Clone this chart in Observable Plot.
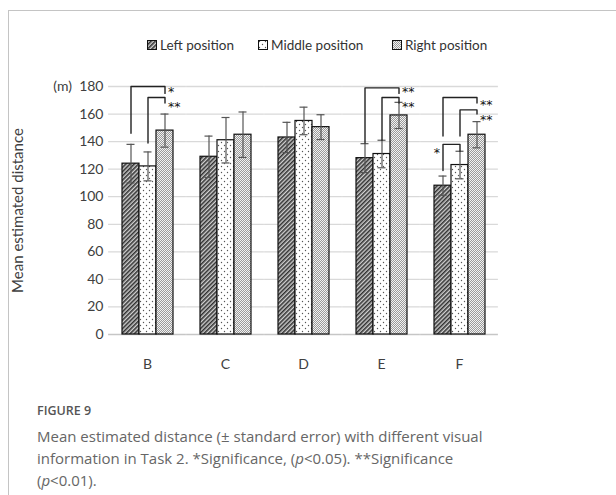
<!DOCTYPE html>
<html>
<head>
<meta charset="utf-8">
<script src="https://cdn.jsdelivr.net/npm/d3@7"></script>
<script src="https://cdn.jsdelivr.net/npm/@observablehq/plot@0.6"></script>
<style>
  html, body { margin: 0; padding: 0; background: #fff; width: 616px; height: 495px; overflow: hidden; }
  #card { position: absolute; left: 8px; top: 10px; width: 700px; height: 600px; border: 1px solid #c4c4c4; box-sizing: border-box; }
  #chart { position: absolute; left: 0; top: 0; }
  .leg { position: absolute; top: 37px; font: 13.5px Lato, sans-serif; color: #333; display: flex; align-items: center; white-space: nowrap; }
  .leg svg { margin-right: 3px; }
  #fig { position: absolute; left: 37px; top: 402px; font: 600 12.5px "Open Sans", sans-serif; color: #555; }
  #cap { position: absolute; left: 37px; top: 425px; font: 15px "Open Sans", sans-serif; color: #666; line-height: 22px; white-space: nowrap; }
</style>
</head>
<body>
<div id="card"></div>
<div id="chart"></div>
<div id="legend"></div>
<div id="fig">FIGURE 9</div>
<div id="cap">Mean estimated distance (± standard error) with different visual<br>information in Task 2. *Significance, (<i>p</i>&lt;0.05). **Significance<br>(<i>p</i>&lt;0.01).</div>
<script>
const categories = ["B", "C", "D", "E", "F"];
const series = ["Left position", "Middle position", "Right position"];
const leftMean = [124, 129, 143, 128, 108];
const leftErr = [14, 15, 11, 10.5, 7];
const middleMean = [122, 141, 155, 131, 123];
const middleErr = [10.5, 16.5, 10, 10, 10];
const rightMean = [148, 145, 150.5, 159, 145];
const rightErr = [12, 16.5, 9, 9.5, 9.5];
const yTicks = [0, 20, 40, 60, 80, 100, 120, 140, 160, 180];

const bracketCat = ["B", "B", "E", "E", "F", "F", "F"];
const bracketFrom = ["Left position", "Middle position", "Left position", "Middle position", "Left position", "Middle position", "Left position"];
const bracketTo = ["Right position", "Right position", "Right position", "Right position", "Right position", "Right position", "Middle position"];
const bracketFromY = [146, 139, 139, 141, 144, 144, 119];
const bracketTopY = [180, 172, 179, 172, 172, 163, 138];
const bracketToY = [175, 168, 175, 168, 168, 160, 133];
const bracketLabel = ["*", "**", "**", "**", "**", "**", "*"];
const bracketSide = ["right", "right", "right", "right", "right", "right", "left"];

const patternIds = ["patL", "patM", "patR"];
const means = [leftMean, middleMean, rightMean];
const errs = [leftErr, middleErr, rightErr];

const data = [];
categories.forEach((c, i) => series.forEach((s, j) => {
  data.push({cat: c, series: s, mean: means[j][i], err: errs[j][i]});
}));

const brackets = bracketCat.map((c, i) => ({
  id: i, cat: c, from: bracketFrom[i], to: bracketTo[i], fromY: bracketFromY[i],
  top: bracketTopY[i], toY: bracketToY[i], label: bracketLabel[i], side: bracketSide[i]
}));
const bracketPts = brackets.flatMap(b => [
  {id: b.id, cat: b.cat, series: b.from, y: b.fromY},
  {id: b.id, cat: b.cat, series: b.from, y: b.top},
  {id: b.id, cat: b.cat, series: b.to, y: b.top},
  {id: b.id, cat: b.cat, series: b.to, y: b.toY}
]);
// stacked significance labels: one text block per category & side, anchored at the lowest bracket
const starBlocks = d3.groups(brackets, b => b.cat, b => b.side).flatMap(([cat, sides]) =>
  sides.map(([side, bs]) => ({
    cat, side, n: bs.length,
    series: side === "right" ? bs[0].to : bs[0].from,
    low: d3.min(bs, b => b.top),
    text: bs.map(b => b.label).join("\n")
  })));

// facets: step 78px, band 52.5px -> half gap 12.75px
const gridExtend = -12.9;
const gridData = categories.flatMap(c => yTicks.map(t => ({cat: c, v: t})));

const starStyle = {fx: "cat", x: "series", y: "low", text: "text", lineAnchor: "top", lineHeight: 1.2, fontSize: 12.5, fill: "#111", fontFamily: "DejaVu Sans"};

const chart = Plot.plot({
  width: 520,
  height: 379,
  marginLeft: 108,
  marginRight: 22,
  marginTop: 86,
  marginBottom: 45,
  style: {fontFamily: "Lato, sans-serif", fontSize: "14px", color: "#404040", background: "transparent", overflow: "visible"},
  fx: {domain: categories, paddingInner: 0.327, paddingOuter: 0.1635, axis: "bottom", label: null, tickSize: 0, tickPadding: 25},
  x: {domain: series, padding: 0, axis: null},
  y: {domain: [0, 180], ticks: yTicks, tickFormat: d => d === 180 ? "(m)\u00a0\u00a0180" : String(d), tickSize: 0, tickPadding: 18,
      label: "Mean estimated distance", labelAnchor: "center", labelOffset: 109, labelArrow: "none"},
  color: {domain: series, range: patternIds.map(id => `url(#${id})`)},
  marks: [
    Plot.ruleY(gridData, {fx: "cat", y: "v", stroke: d => d.v === 0 ? "#c6c6c6" : "#d9d9d9", strokeWidth: 1.3, insetLeft: gridExtend, insetRight: gridExtend}),
    Plot.barY(data, {fx: "cat", x: "series", y: "mean", fill: "series", stroke: "#111", strokeWidth: 1.2}),
    Plot.ruleX(data, {fx: "cat", x: "series", y1: d => d.mean - d.err, y2: d => d.mean + d.err, stroke: "#555", strokeWidth: 1.2}),
    Plot.tickY(data, {fx: "cat", x: "series", y: d => d.mean - d.err, stroke: "#555", strokeWidth: 1.2, insetLeft: 4.5, insetRight: 4.5}),
    Plot.tickY(data, {fx: "cat", x: "series", y: d => d.mean + d.err, stroke: "#555", strokeWidth: 1.2, insetLeft: 4.5, insetRight: 4.5}),
    Plot.line(bracketPts, {fx: "cat", x: "series", y: "y", z: "id", stroke: "#222", strokeWidth: 1.4, curve: "linear"}),
    Plot.text(starBlocks.filter(b => b.side === "right" && b.n === 2), {...starStyle, textAnchor: "start", dx: 3, dy: -12}),
    Plot.text(starBlocks.filter(b => b.side === "right" && b.n === 1), {...starStyle, textAnchor: "start", dx: 3, dy: 2}),
    Plot.text(starBlocks.filter(b => b.side === "left"), {...starStyle, textAnchor: "end", dx: -3, dy: 2})
  ]
});

// pattern definitions
const defs = d3.select(chart).insert("defs", ":first-child");
const pL = defs.append("pattern").attr("id", "patL").attr("width", 3).attr("height", 3)
  .attr("patternUnits", "userSpaceOnUse").attr("patternTransform", "rotate(45)");
pL.append("rect").attr("width", 3).attr("height", 3).attr("fill", "#d0d0d0");
pL.append("line").attr("x1", 0.8).attr("y1", 0).attr("x2", 0.8).attr("y2", 3).attr("stroke", "#2a2a2a").attr("stroke-width", 1.5);
const pM = defs.append("pattern").attr("id", "patM").attr("width", 6).attr("height", 6).attr("patternUnits", "userSpaceOnUse");
pM.append("rect").attr("width", 6).attr("height", 6).attr("fill", "#fff");
pM.append("circle").attr("cx", 1.5).attr("cy", 1.5).attr("r", 0.7).attr("fill", "#555");
pM.append("circle").attr("cx", 4.5).attr("cy", 4.5).attr("r", 0.7).attr("fill", "#555");
const pR = defs.append("pattern").attr("id", "patR").attr("width", 2).attr("height", 2).attr("patternUnits", "userSpaceOnUse");
pR.append("rect").attr("width", 2).attr("height", 2).attr("fill", "#f2f2f2");
pR.append("rect").attr("width", 1).attr("height", 1).attr("fill", "#9a9a9a");
pR.append("rect").attr("x", 1).attr("y", 1).attr("width", 1).attr("height", 1).attr("fill", "#9a9a9a");

d3.select(chart).selectAll("[aria-label='y-axis label'] text, [aria-label='y-axis label']").attr("font-size", "15px");
document.getElementById("chart").appendChild(chart);

// legend
const legendX = [147, 258, 392];
const legend = document.getElementById("legend");
series.forEach((s, j) => {
  const item = document.createElement("div");
  item.className = "leg";
  item.style.left = legendX[j] + "px";
  item.innerHTML = `<svg width="10" height="10"><rect x="0.5" y="0.5" width="9" height="9" fill="url(#${patternIds[j]})" stroke="#111" stroke-width="1"/></svg>${s}`;
  legend.appendChild(item);
});
</script>
</body>
</html>
